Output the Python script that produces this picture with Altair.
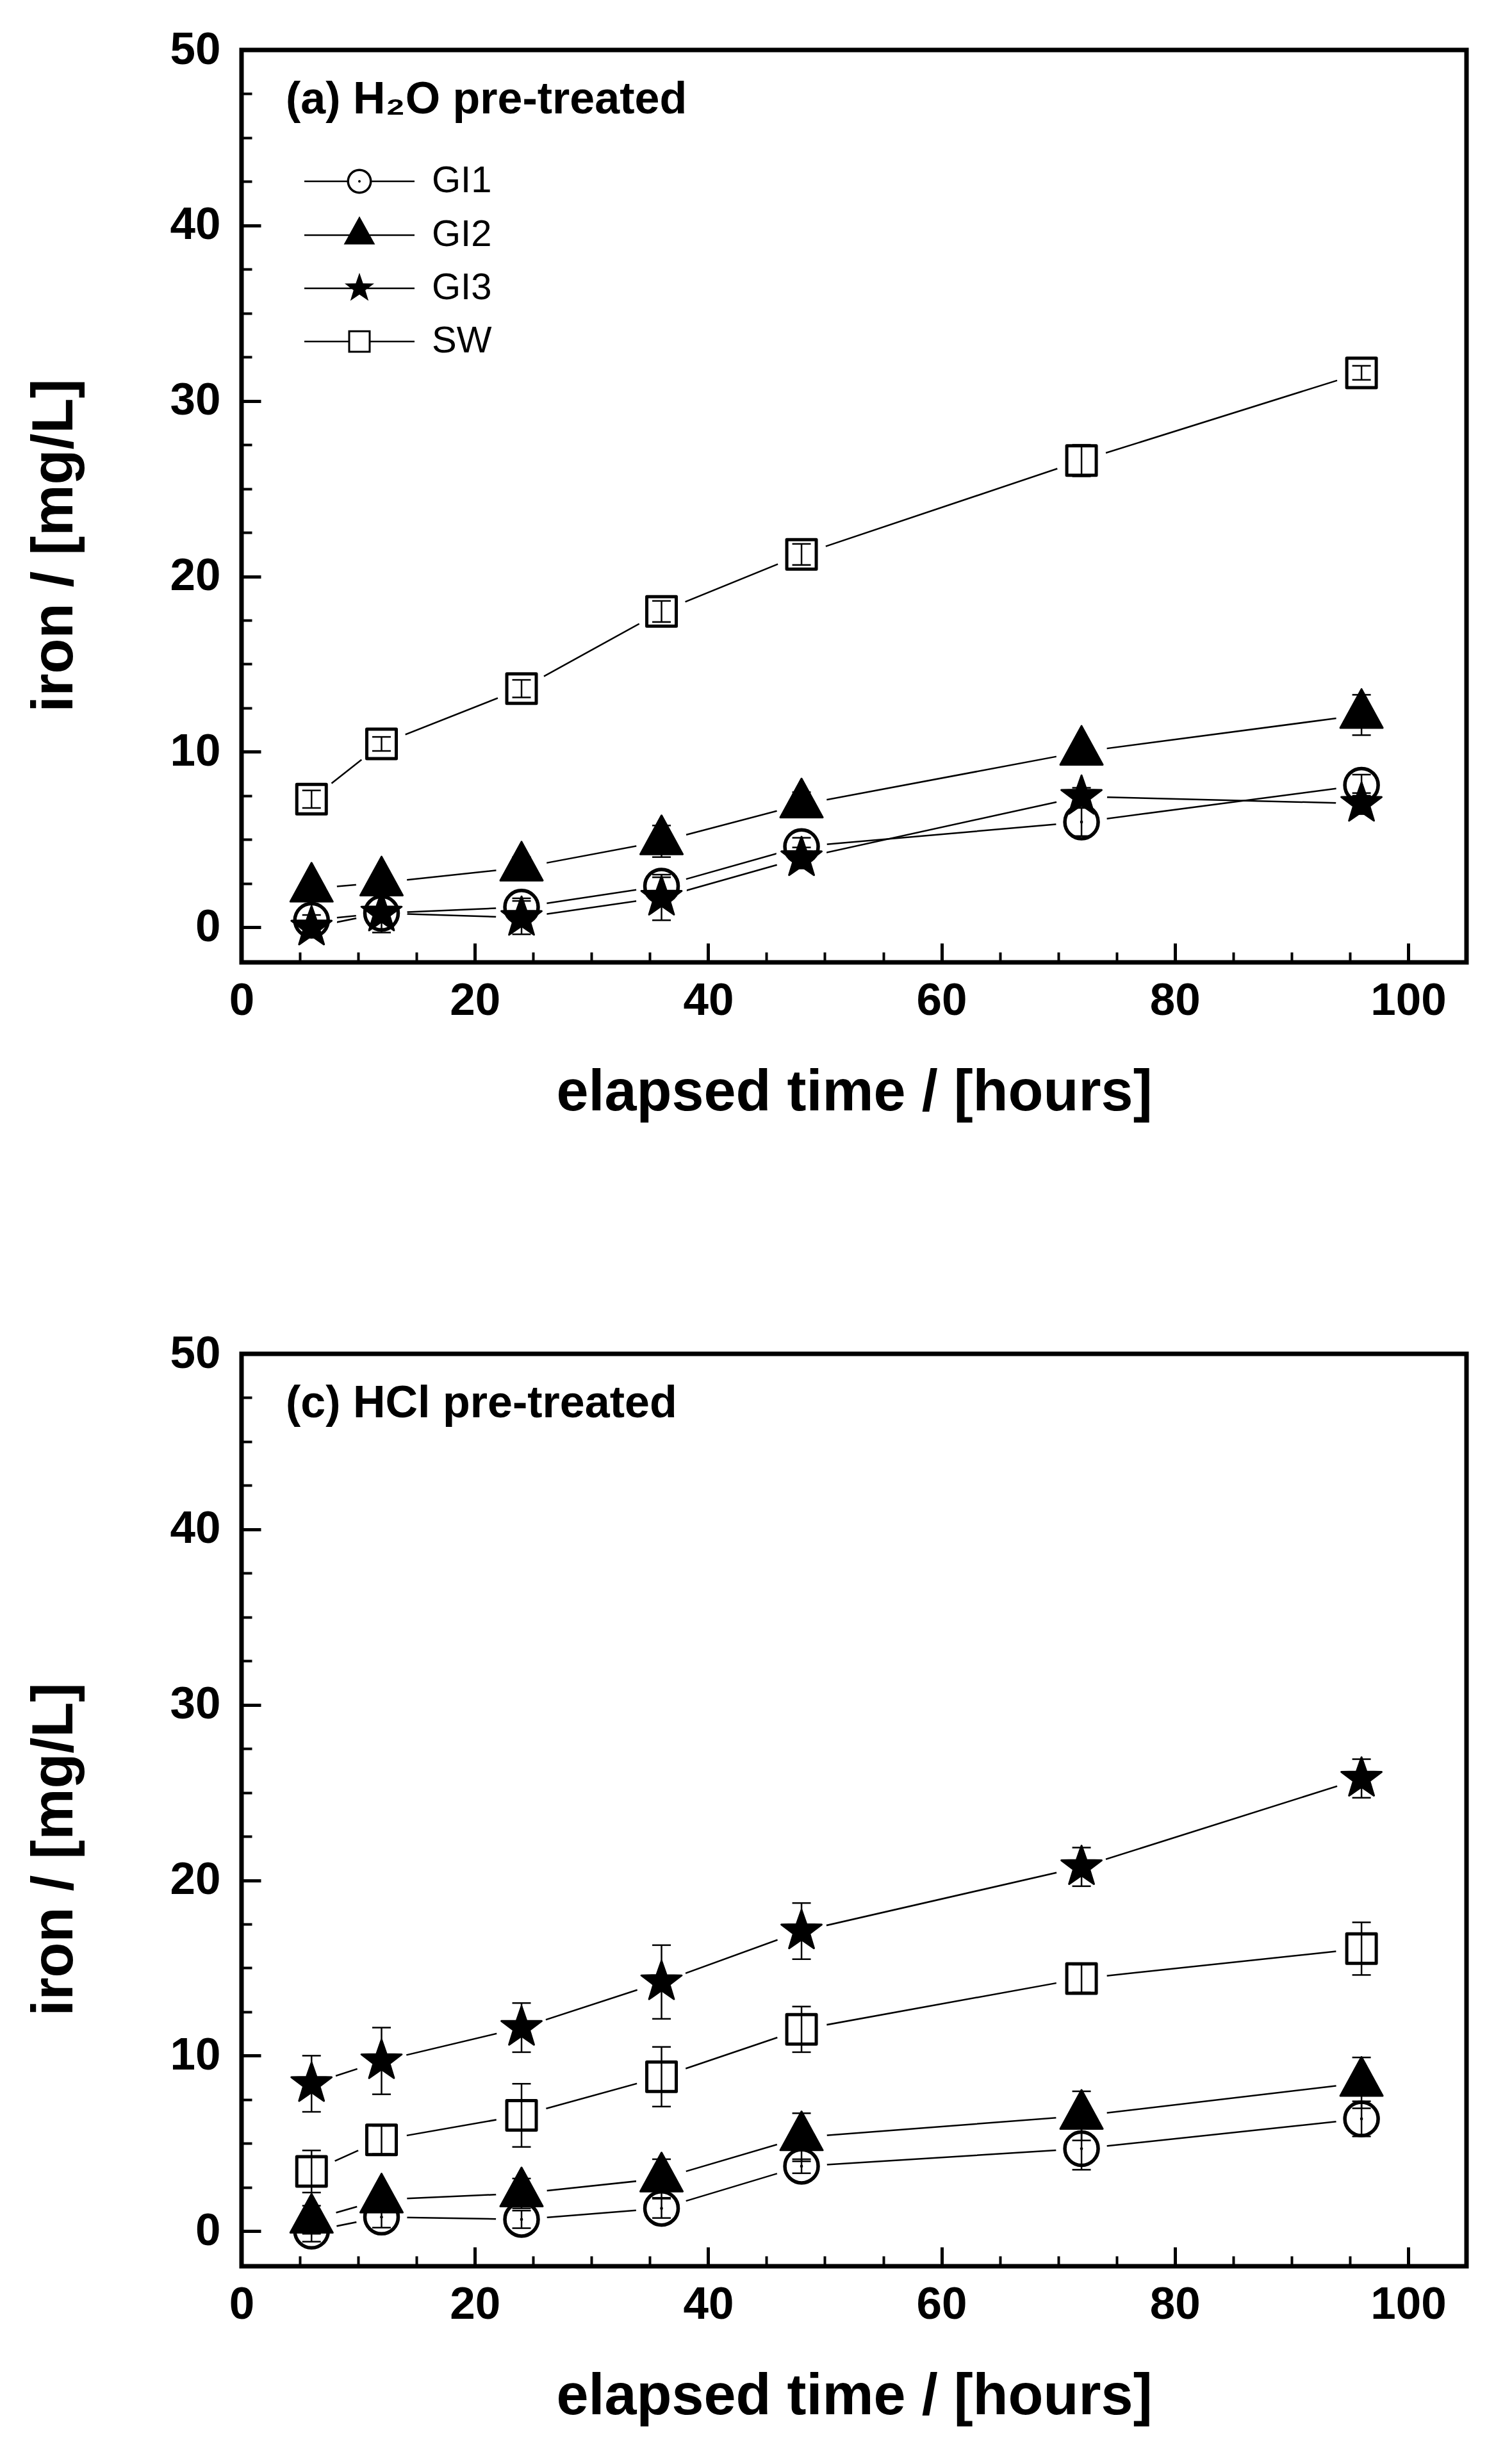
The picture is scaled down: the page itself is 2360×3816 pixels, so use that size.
import altair as alt
import numpy as np
import pandas as pd

hours = [6, 12, 24, 36, 48, 72, 96]
series = ["GI1", "GI2", "GI3", "SW"]

# (a) H2O pre-treated
h2o_gi1 = [0.4, 0.8, 1.15, 2.35, 4.6, 6.0, 8.1]
h2o_gi2 = [2.2, 2.55, 3.4, 4.9, 7.0, 10.0, 12.1]
h2o_gi3 = [0.0, 0.8, 0.55, 1.7, 3.95, 7.45, 7.05]
h2o_sw = [7.3, 10.45, 13.6, 18.0, 21.25, 26.6, 31.6]
h2o_gi1_err = [0.3, 0.3, 0.5, 0.5, 0.5, 0.8, 0.6]
h2o_gi2_err = [0.3, 0.3, 0.6, 0.9, 0.7, 0.5, 1.15]
h2o_gi3_err = [0.3, 1.1, 0.95, 1.3, 0.6, 0.5, 0.6]
h2o_sw_err = [0.5, 0.4, 0.5, 0.6, 0.6, 0.9, 0.4]

# (c) HCl pre-treated
hcl_gi1 = [0.0, 0.8, 0.67, 1.3, 3.7, 4.7, 6.4]
hcl_gi2 = [0.65, 1.8, 2.15, 3.0, 5.35, 6.57, 8.45]
hcl_gi3 = [8.4, 9.7, 11.6, 14.2, 17.1, 20.76, 25.8]
hcl_sw = [3.4, 5.2, 6.6, 8.8, 11.5, 14.4, 16.1]
hcl_gi1_err = [0.6, 0.6, 0.5, 0.55, 0.4, 1.2, 1.0]
hcl_gi2_err = [0.8, 0.4, 0.85, 1.1, 1.37, 1.4, 1.45]
hcl_gi3_err = [1.6, 1.9, 1.4, 2.1, 1.6, 1.1, 1.1]
hcl_sw_err = [1.2, 0.8, 1.8, 1.7, 1.3, 0.8, 1.5]

x_major = [0, 20, 40, 60, 80, 100]
x_minor = [5, 10, 15, 20, 25, 30, 35, 40, 45, 50, 55, 60, 65, 70, 75, 80, 85, 90, 95, 100]
y_major = [0, 10, 20, 30, 40, 50]
y_minor = [0, 2.5, 5, 7.5, 10, 12.5, 15, 17.5, 20, 22.5, 25, 27.5, 30, 32.5,
           35, 37.5, 40, 42.5, 45, 47.5, 50]

W, H = 1912, 1424
FONT = "Liberation Sans"


def poly(pts):
    return "M" + " L".join(f"{x:.3f},{y:.3f}" for x, y in pts) + " Z"


def circle_pts(r, n=48, ccw=False):
    a = np.linspace(0, 2 * np.pi, n, endpoint=False)
    if ccw:
        a = a[::-1]
    return list(zip(r * np.cos(a), r * np.sin(a)))


def star_pts(R, ratio=0.4):
    a = np.deg2rad(-90 + 36 * np.arange(10))
    rad = np.where(np.arange(10) % 2 == 0, R, R * ratio)
    return list(zip(rad * np.cos(a), rad * np.sin(a)))


def rect(x0, x1, y0, y1, ccw=False):
    pts = [(x0, y0), (x1, y0), (x1, y1), (x0, y1)]
    return pts[::-1] if ccw else pts


TRIANGLE = poly([(0, -1.22), (1, 0.61), (-1, 0.61)])
STAR = poly(star_pts(1.0))

MARKERS = {
    "GI1": dict(shape="circle", size=2704, fill="white", sw=5.5),
    "GI2": dict(shape=TRIANGLE, size=4356, fill="black", sw=3),
    "GI3": dict(shape=STAR, size=4356, fill="black", sw=3),
    "SW": dict(shape="square", size=2116, fill="white", sw=5),
}

# legend symbols: line + marker drawn as one filled path
t = 0.065
LEGEND_PATHS = [
    " ".join([poly(rect(-4.3, -0.975, -t, t)), poly(rect(0.975, 4.3, -t, t)),
              poly(circle_pts(0.975)), poly(circle_pts(0.8, ccw=True)),
              poly(circle_pts(0.1, n=12))]),
    " ".join([poly(rect(-4.3, 4.3, -t, t)),
              poly([(0, -1.47), (1.22, 0.73), (-1.22, 0.73)])]),
    " ".join([poly(rect(-4.3, 4.3, -t, t)), poly(star_pts(1.21))]),
    " ".join([poly(rect(-4.3, -0.875, -t, t)), poly(rect(0.875, 4.3, -t, t)),
              poly(rect(-0.875, 0.875, -0.875, 0.875)),
              poly(rect(-0.725, 0.725, -0.725, 0.725, ccw=True))]),
]

xs = alt.Scale(domain=[0, 105], nice=False, zero=False)
ys = alt.Scale(domain=[-2, 50], nice=False, zero=False)


def label_axes():
    ax = alt.Axis(values=x_major, ticks=False, tickSize=0, domain=False, grid=False,
                  labelFontSize=71, labelFontWeight="bold", labelPadding=25,
                  labelFlush=False, labelOverlap=False, format="d",
                  title="elapsed time / [hours]", titleFontSize=90, titleFontWeight="bold",
                  titleBaseline="alphabetic", titleY=230, orient="bottom")
    ay = alt.Axis(values=y_major, ticks=False, tickSize=0, domain=False, grid=False,
                  labelFontSize=71, labelFontWeight="bold", labelPadding=33,
                  labelFlush=False, labelOverlap=False, format="d",
                  title="iron / [mg/L]", titleFontSize=90, titleFontWeight="bold",
                  titleAngle=270, titleBaseline="alphabetic", titleAlign="center",
                  titleX=-265, titleY=773, orient="left")
    return ax, ay


def tick_axes(xv, yv, size, width):
    ax = alt.Axis(values=xv, orient="top", offset=-H, labels=False, domain=False, grid=False,
                  ticks=True, tickSize=size, tickWidth=width, tickColor="black", title=None)
    ay = alt.Axis(values=yv, orient="right", offset=-W, labels=False, domain=False, grid=False,
                  ticks=True, tickSize=size, tickWidth=width, tickColor="black", title=None)
    return ax, ay


def panel(values, errors, label):
    rows = []
    for s in series:
        for h, v, e in zip(hours, values[s], errors[s]):
            rows.append(dict(hours=h, series=s, value=v, lo=v - e, hi=v + e))
    df = pd.DataFrame(rows)
    base = alt.Chart(df)
    pos = dict(
        x=alt.X("hours:Q", scale=xs, axis=None),
        y=alt.Y("value:Q", scale=ys, axis=None),
    )

    lax, lay = label_axes()
    max_, may_ = tick_axes(x_major, y_major, 30, 5)
    mix_, miy_ = tick_axes(x_minor, y_minor, 16, 4)

    lines = base.mark_line(color="black", strokeWidth=2.5).encode(
        x=alt.X("hours:Q", scale=xs, axis=lax),
        y=alt.Y("value:Q", scale=ys, axis=lay),
        detail="series:N",
        order="hours:Q",
    )
    # white halo so the connecting lines stop short of the symbols
    halo = base.mark_point(shape="circle", size=6400, filled=True, color="white",
                           opacity=1).encode(**pos)

    layers = [lines, halo]
    for s in series:
        st = MARKERS[s]
        layers.append(
            base.transform_filter(alt.datum.series == s).mark_point(
                shape=st["shape"], size=st["size"], filled=True, fill=st["fill"],
                stroke="black", strokeWidth=st["sw"], strokeJoin="round", opacity=1,
            ).encode(**pos)
        )
    layers.append(
        base.transform_filter(alt.datum.series == "GI1").mark_point(
            shape="circle", size=22, filled=True, color="black", opacity=1
        ).encode(**pos)
    )

    bars = base.mark_rule(color="black", strokeWidth=2.5).encode(
        x=alt.X("hours:Q", scale=xs, axis=max_),
        y=alt.Y("lo:Q", scale=ys, axis=may_),
        y2="hi:Q",
    )
    cap_lo = base.mark_tick(orient="horizontal", size=29, thickness=2.5, color="black",
                            opacity=1).encode(
        x=alt.X("hours:Q", scale=xs, axis=mix_),
        y=alt.Y("lo:Q", scale=ys, axis=miy_),
    )
    cap_hi = base.mark_tick(orient="horizontal", size=29, thickness=2.5, color="black",
                            opacity=1).encode(
        x=alt.X("hours:Q", scale=xs, axis=None),
        y=alt.Y("hi:Q", scale=ys, axis=None),
    )
    layers += [bars, cap_lo, cap_hi]

    legend = base.mark_point(filled=True, color="black", strokeWidth=0, opacity=1).encode(
        x=alt.X("hours:Q", scale=xs, axis=None),
        y=alt.Y("value:Q", scale=ys, axis=None),
        shape=alt.Shape(
            "series:N",
            scale=alt.Scale(domain=series, range=LEGEND_PATHS),
            legend=alt.Legend(
                orient="none", legendX=155, legendY=176, title=None,
                labelFont=FONT, labelFontSize=58, labelFontWeight="normal",
                labelColor="black", symbolSize=1600, symbolFillColor="black",
                symbolStrokeWidth=0, symbolOpacity=1, labelOffset=84,
                rowPadding=25, padding=0, labelLimit=500,
            ),
        ),
    ).transform_filter("false")
    layers.append(legend)

    return alt.layer(*layers).resolve_axis(x="independent", y="independent").properties(
        width=W, height=H,
        title=alt.TitleParams(
            text=label, anchor="start", frame="group", dx=69, offset=-205,
            baseline="alphabetic", font=FONT, fontSize=70, fontWeight="bold", color="black",
        ),
    )


top = panel(
    {"GI1": h2o_gi1, "GI2": h2o_gi2, "GI3": h2o_gi3, "SW": h2o_sw},
    {"GI1": h2o_gi1_err, "GI2": h2o_gi2_err, "GI3": h2o_gi3_err, "SW": h2o_sw_err},
    "(a) H\u2082O pre-treated",
)
bottom = panel(
    {"GI1": hcl_gi1, "GI2": hcl_gi2, "GI3": hcl_gi3, "SW": hcl_sw},
    {"GI1": hcl_gi1_err, "GI2": hcl_gi2_err, "GI3": hcl_gi3_err, "SW": hcl_sw_err},
    "(c) HCl pre-treated",
)

chart = alt.vconcat(top, bottom, spacing=319).properties(
    padding={"left": 28, "top": 30, "right": 10, "bottom": 10},
    background="white",
).configure_view(
    stroke="black", strokeWidth=7
).configure_axis(
    labelFont=FONT, titleFont=FONT, labelColor="black", titleColor="black",
    tickColor="black",
)

chart.save("out.html", embed_options={"renderer": "svg", "actions": False})
